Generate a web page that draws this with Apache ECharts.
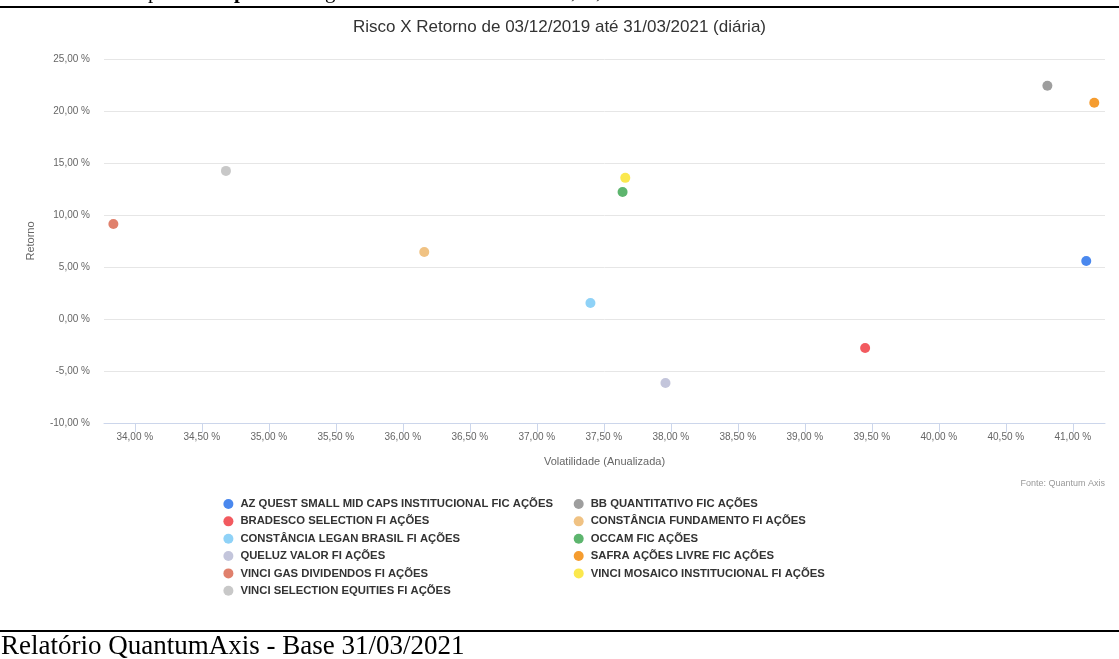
<!DOCTYPE html>
<html>
<head>
<meta charset="utf-8">
<script src="https://cdn.jsdelivr.net/npm/echarts@6/dist/echarts.min.js"></script>
<style>html,body{margin:0;padding:0;background:#fff;}#c{width:1119px;height:659px;}</style>
</head>
<body>
<div id="c"></div>
<script>
const funds = [
  'AZ QUEST SMALL MID CAPS INSTITUCIONAL FIC AÇÕES',
  'BB QUANTITATIVO FIC AÇÕES',
  'BRADESCO SELECTION FI AÇÕES',
  'CONSTÂNCIA FUNDAMENTO FI AÇÕES',
  'CONSTÂNCIA LEGAN BRASIL FI AÇÕES',
  'OCCAM FIC AÇÕES',
  'QUELUZ VALOR FI AÇÕES',
  'SAFRA AÇÕES LIVRE FIC AÇÕES',
  'VINCI GAS DIVIDENDOS FI AÇÕES',
  'VINCI MOSAICO INSTITUCIONAL FI AÇÕES',
  'VINCI SELECTION EQUITIES FI AÇÕES'
];
const volatility = [41.10, 40.81, 39.45, 36.16, 37.40, 37.64, 37.96, 41.16, 33.84, 37.66, 34.68];
const returns    = [5.58, 22.43, -2.79, 6.45, 1.54, 12.22, -6.16, 20.79, 9.14, 13.57, 14.24];
const colors = ['#4a88ee', '#9e9e9e', '#f25a5f', '#f0c283', '#8fd2f7', '#5db56e', '#c3c5db', '#f59c2f', '#e0806c', '#fbe84e', '#c8c8c8'];
const xTicks = [34, 34.5, 35, 35.5, 36, 36.5, 37, 37.5, 38, 38.5, 39, 39.5, 40, 40.5, 41];
const yTicks = [-10, -5, 0, 5, 10, 15, 20, 25];

const FONT = "'Liberation Sans', Arial, sans-serif";
const fmt = v => v.toFixed(2).replace('.', ',') + ' %';

const series = funds.map((name, i) => ({
  name: name,
  type: 'scatter',
  symbol: 'circle',
  symbolSize: 10,
  itemStyle: { color: colors[i], opacity: 1 },
  emphasis: { disabled: true },
  data: [[volatility[i], returns[i]]]
}));

const leftCol = funds.filter((_, i) => i % 2 === 0);
const rightCol = funds.filter((_, i) => i % 2 === 1);
const legendBase = {
  orient: 'vertical',
  top: 498,
  padding: 0,
  itemWidth: 14,
  itemHeight: 10,
  itemGap: 5.35,
  icon: 'circle',
  selectedMode: false,
  textStyle: { fontFamily: FONT, fontSize: 11.3, fontWeight: 'bold', color: '#333', lineHeight: 12 }
};

const chart = echarts.init(document.getElementById('c'), null, { renderer: 'canvas' });
chart.setOption({
  animation: false,
  backgroundColor: '#fff',
  color: colors,
  title: {
    text: 'Risco X Retorno de 03/12/2019 até 31/03/2021 (diária)',
    left: 'center',
    top: 14,
    textStyle: { fontFamily: FONT, fontSize: 17, fontWeight: 'normal', color: '#333' }
  },
  grid: { left: 104, right: 14, top: 59, bottom: 236, containLabel: false },
  xAxis: {
    type: 'value',
    min: 33.77,
    max: 41.24,
    name: 'Volatilidade (Anualizada)',
    nameLocation: 'middle',
    nameGap: 33,
    nameTextStyle: { fontFamily: FONT, fontSize: 11, color: '#666' },
    axisLine: { show: true, onZero: false, lineStyle: { color: '#ccd6eb', width: 1 } },
    axisTick: { show: true, length: 9, lineStyle: { color: '#ccd6eb' }, customValues: xTicks },
    axisLabel: { fontFamily: FONT, fontSize: 10, color: '#666', margin: 9, customValues: xTicks, formatter: fmt },
    splitLine: { show: false }
  },
  yAxis: {
    type: 'value',
    min: yTicks[0],
    max: yTicks[yTicks.length - 1],
    interval: 5,
    name: 'Retorno',
    nameLocation: 'middle',
    nameRotate: 90,
    nameGap: 68,
    nameTextStyle: { fontFamily: FONT, fontSize: 11, color: '#666' },
    axisLine: { show: false },
    axisTick: { show: false },
    axisLabel: { fontFamily: FONT, fontSize: 10, color: '#666', margin: 14, formatter: fmt },
    splitLine: { show: true, lineStyle: { color: '#e6e6e6', width: 1 } }
  },
  legend: [
    Object.assign({}, legendBase, { left: 223.4, data: leftCol }),
    Object.assign({}, legendBase, { left: 573.7, data: rightCol })
  ],
  graphic: [
    { type: 'rect', left: 0, top: 6, shape: { width: 1119, height: 2 }, style: { fill: '#000' } },
    { type: 'text', x: 148, y: 3, style: { text: 'p', font: "21px 'Liberation Serif', serif", fill: '#000', verticalAlign: 'bottom' } },
    { type: 'text', x: 234, y: 3, style: { text: 'p', font: "bold 21px 'Liberation Serif', serif", fill: '#000', verticalAlign: 'bottom' } },
    { type: 'text', x: 325, y: 3, style: { text: 'g', font: "21px 'Liberation Serif', serif", fill: '#000', verticalAlign: 'bottom' } },
    { type: 'text', x: 571, y: 3, style: { text: ',', font: "21px 'Liberation Serif', serif", fill: '#000', verticalAlign: 'bottom' } },
    { type: 'text', x: 596, y: 3, style: { text: ',', font: "21px 'Liberation Serif', serif", fill: '#000', verticalAlign: 'bottom' } },
    { type: 'text', right: 14, top: 479, style: { text: 'Fonte: Quantum Axis', font: "9px 'Liberation Sans', Arial, sans-serif", fill: '#999' } },
    { type: 'rect', left: 0, top: 630, shape: { width: 1119, height: 2 }, style: { fill: '#000' } },
    { type: 'text', x: 1, y: 647, style: { text: 'Relatório QuantumAxis - Base 31/03/2021', font: "27px 'Liberation Serif', serif", fill: '#000', verticalAlign: 'middle' } }
  ],
  series: series
});
</script>
</body>
</html>
